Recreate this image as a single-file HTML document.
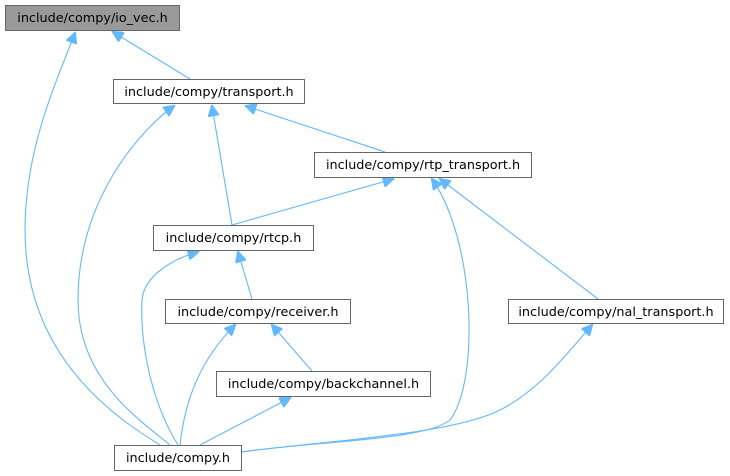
<!DOCTYPE html>
<html><head><meta charset="utf-8"><style>
html,body{margin:0;padding:0;background:#fff;width:730px;height:476px;overflow:hidden}
svg text{font-family:"DejaVu Sans","Liberation Sans",sans-serif;font-size:12.8px;fill:#000}
</style></head><body>
<svg width="730" height="476" viewBox="0 0 730 476" xmlns="http://www.w3.org/2000/svg">
<defs>
<marker id="a" viewBox="0 0 10 10" refX="9" refY="5" markerWidth="12" markerHeight="11" markerUnits="userSpaceOnUse" orient="auto">
<path d="M0,0 L10,5 L0,10 z" fill="#63b8ff" stroke="#63b8ff"/>
</marker>
</defs>
<g fill="none" stroke="#63b8ff" stroke-width="1.1" marker-end="url(#a)">
<path d="M190,79 L113,32"/>
<path d="M160,445 C120,420 25,360 25,230 C25,150 55,85 75,33"/>
<path d="M170,445 C140,420 78,380 78,300 C78,200 140,130 174,106"/>
<path d="M232,225 L212,106"/>
<path d="M385,152 L246,106"/>
<path d="M232,225 L393,179"/>
<path d="M240,452 C330,440 425,440 450,420 C480,380 475,240 432,179"/>
<path d="M598,299 L440,179"/>
<path d="M252,299 L238,252"/>
<path d="M178,445 C150,400 140,340 142,300 C144,275 175,258 198,252"/>
<path d="M312,371 L272,325"/>
<path d="M180,445 C185,400 200,360 235,325"/>
<path d="M200,445 L290,398"/>
<path d="M242,452 C330,440 450,435 500,410 C540,390 570,350 592,325"/>
</g>
<g stroke="#666" stroke-width="1">
<rect x="5.5" y="5.5" width="174" height="25" fill="#999"/>
<rect x="113.5" y="79.5" width="191" height="24" fill="#fff"/>
<rect x="314.5" y="152.5" width="217" height="25" fill="#fff"/>
<rect x="153.5" y="225.5" width="160" height="25" fill="#fff"/>
<rect x="165.5" y="299.5" width="185" height="24" fill="#fff"/>
<rect x="508.5" y="299.5" width="215" height="24" fill="#fff"/>
<rect x="216.5" y="371.5" width="214" height="25" fill="#fff"/>
<rect x="114.5" y="445.5" width="127" height="25" fill="#fff"/>
</g>
<g text-anchor="middle">
<text x="92.5" y="22">include/compy/io_vec.h</text>
<text x="209" y="96">include/compy/transport.h</text>
<text x="423" y="169">include/compy/rtp_transport.h</text>
<text x="233.5" y="242">include/compy/rtcp.h</text>
<text x="258" y="316">include/compy/receiver.h</text>
<text x="616" y="316">include/compy/nal_transport.h</text>
<text x="323.5" y="388">include/compy/backchannel.h</text>
<text x="178" y="462">include/compy.h</text>
</g>
</svg>
</body></html>
